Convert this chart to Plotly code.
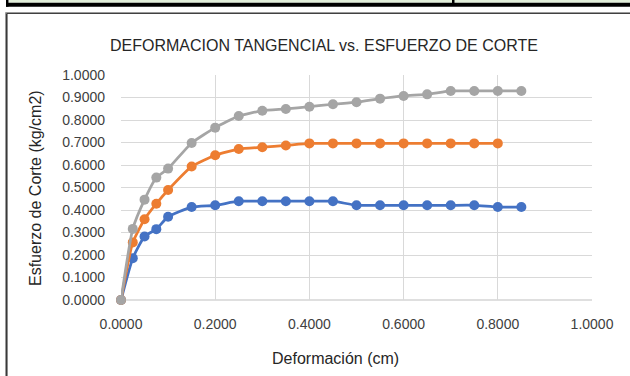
import plotly.graph_objects as go

# ---- data ----
deform_blue = [0, 0.025, 0.05, 0.075, 0.1, 0.15, 0.2, 0.25, 0.3, 0.35, 0.4, 0.45, 0.5,
               0.55, 0.6, 0.65, 0.7, 0.75, 0.8, 0.85]
esf_blue = [0.0, 0.186, 0.282, 0.315, 0.370, 0.413, 0.421, 0.439, 0.439, 0.439, 0.439, 0.439,
            0.421, 0.421, 0.421, 0.421, 0.421, 0.421, 0.413, 0.413]

deform_orange = [0, 0.025, 0.05, 0.075, 0.1, 0.15, 0.2, 0.25, 0.3, 0.35, 0.4, 0.45, 0.5,
                 0.55, 0.6, 0.65, 0.7, 0.75, 0.8]
esf_orange = [0.0, 0.256, 0.359, 0.428, 0.489, 0.593, 0.643, 0.671, 0.679, 0.687, 0.696, 0.696,
              0.696, 0.696, 0.696, 0.696, 0.696, 0.696, 0.696]

deform_gray = [0, 0.025, 0.05, 0.075, 0.1, 0.15, 0.2, 0.25, 0.3, 0.35, 0.4, 0.45, 0.5,
               0.55, 0.6, 0.65, 0.7, 0.75, 0.8, 0.85]
esf_gray = [0.0, 0.316, 0.446, 0.544, 0.584, 0.698, 0.766, 0.818, 0.841, 0.849, 0.859, 0.870,
            0.879, 0.895, 0.907, 0.914, 0.929, 0.929, 0.929, 0.929]

x_ticks = [0.0, 0.2, 0.4, 0.6, 0.8, 1.0]
y_ticks = [0.0, 0.1, 0.2, 0.3, 0.4, 0.5, 0.6, 0.7, 0.8, 0.9, 1.0]

title_text = "DEFORMACION TANGENCIAL vs. ESFUERZO DE CORTE"
x_title = "Deformación (cm)"
y_title = "Esfuerzo de Corte (kg/cm2)"

# ---- layout geometry ----
W, H = 630, 376
L, R, T, B = 121, 38, 75, 76
PW, PH = W - L - R, H - T - B
FONT = "Liberation Sans, Arial, sans-serif"


def px(x):
    return (x - L) / PW


def py(y):
    return (H - B - y) / PH


fig = go.Figure()
series = [
    (deform_blue, esf_blue, "#4472C4"),
    (deform_orange, esf_orange, "#ED7D31"),
    (deform_gray, esf_gray, "#A5A5A5"),
]
for xs, ys, c in series:
    fig.add_trace(go.Scatter(
        x=xs, y=ys, mode="lines+markers",
        line=dict(color=c, width=2.75, shape="spline", smoothing=0.5),
        marker=dict(color=c, size=10),
        showlegend=False, cliponaxis=False, hoverinfo="skip",
    ))

shapes = [
    # bottom axis line
    dict(type="line", xref="paper", yref="paper", x0=0, x1=1, y0=0, y1=0,
         line=dict(color="#BFBFBF", width=1), layer="below"),
    # top strip (light green + black bar)
    dict(type="rect", xref="paper", yref="paper", x0=px(9), x1=px(640), y0=py(-2), y1=py(2.7),
         fillcolor="#E2EFDA", line=dict(width=0), layer="above"),
    dict(type="rect", xref="paper", yref="paper", x0=px(6), x1=px(640), y0=py(2.7), y1=py(6.7),
         fillcolor="#000000", line=dict(width=0), layer="above"),
    dict(type="rect", xref="paper", yref="paper", x0=px(6), x1=px(8.5), y0=py(-2), y1=py(6.7),
         fillcolor="#000000", line=dict(width=0), layer="above"),
    dict(type="rect", xref="paper", yref="paper", x0=px(452), x1=px(454.5), y0=py(-2), y1=py(3),
         fillcolor="#000000", line=dict(width=0), layer="above"),
    # chart box border
    dict(type="line", xref="paper", yref="paper", x0=px(5.5), x1=px(640), y0=py(12.5), y1=py(12.5),
         line=dict(color="#9a9a9a", width=1), layer="above"),
    dict(type="line", xref="paper", yref="paper", x0=px(6.5), x1=px(640), y0=py(13.5), y1=py(13.5),
         line=dict(color="#404040", width=1), layer="above"),
    dict(type="line", xref="paper", yref="paper", x0=px(5.5), x1=px(5.5), y0=py(12.5), y1=py(390),
         line=dict(color="#9a9a9a", width=1), layer="above"),
    dict(type="line", xref="paper", yref="paper", x0=px(6.8), x1=px(6.8), y0=py(13.5), y1=py(390),
         line=dict(color="#303030", width=1.5), layer="above"),
]

annotations = [
    dict(text=title_text, xref="paper", yref="paper", x=px(324), y=py(45), showarrow=False,
         font=dict(family=FONT, size=16, color="#262626"), xanchor="center", yanchor="middle"),
    dict(text=x_title, xref="paper", yref="paper", x=px(335), y=py(358), showarrow=False,
         font=dict(family=FONT, size=16, color="#262626"), xanchor="center", yanchor="middle"),
    dict(text=y_title, xref="paper", yref="paper", x=px(35), y=py(188), showarrow=False,
         textangle=-90, font=dict(family=FONT, size=16, color="#262626"),
         xanchor="center", yanchor="middle"),
]

fig.update_layout(
    width=W, height=H,
    margin=dict(l=L, r=R, t=T, b=B, pad=0),
    paper_bgcolor="white", plot_bgcolor="white",
    shapes=shapes, annotations=annotations,
    font=dict(family=FONT, size=14, color="#262626"),
    hovermode=False,
)
fig.update_xaxes(
    range=[0, 1.0], tickvals=x_ticks, ticktext=[f"{v:.4f}" for v in x_ticks],
    showgrid=True, gridcolor="#D9D9D9", gridwidth=1, zeroline=False,
    showline=False, ticks="", ticklen=0, ticklabelstandoff=14,
    tickfont=dict(family=FONT, size=14, color="#404040"),
)
fig.update_yaxes(
    range=[0, 1.0], tickvals=y_ticks, ticktext=[f"{v:.4f}" for v in y_ticks],
    showgrid=True, gridcolor="#D9D9D9", gridwidth=1, zeroline=False,
    showline=False, ticks="", ticklen=0, ticklabelstandoff=15,
    tickfont=dict(family=FONT, size=14, color="#404040"),
)

fig.write_html("out.html", config={"displayModeBar": False},
               post_script="document.body.style.margin='0';")
